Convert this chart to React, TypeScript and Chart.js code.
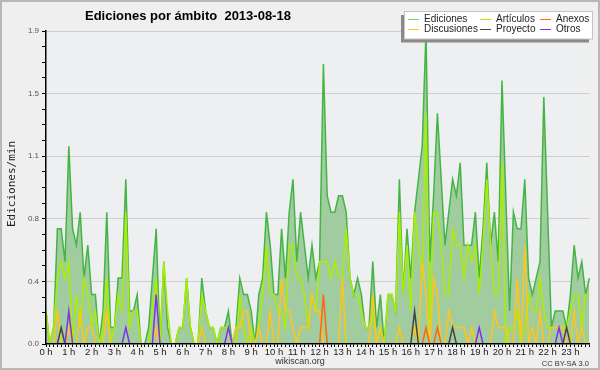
import React, { useEffect, useRef } from "react";
import { Chart, registerables } from "chart.js";

Chart.register(...registerables);

const TITLE = "Ediciones por ámbito  2013-08-18";
const Y_TITLE = "Ediciones/min";
const FOOTER = "wikiscan.org";
const LICENSE = "CC BY-SA 3.0";

const HOURS = [
  "0 h", "1 h", "2 h", "3 h", "4 h", "5 h", "6 h", "7 h", "8 h", "9 h", "10 h", "11 h",
  "12 h", "13 h", "14 h", "15 h", "16 h", "17 h", "18 h", "19 h", "20 h", "21 h", "22 h", "23 h",
];
const MINUTES = ["00", "10", "20", "30", "40", "50"];

// 10-minute slots
const SLOTS: string[] = [];
HOURS.forEach((h) => MINUTES.forEach((m) => SLOTS.push(h.replace(" h", "") + ":" + m)));

const Y_TICKS = [0, 0.38, 0.76, 1.14, 1.52, 1.9];

const EDICIONES = [
  0.2, 0, 0.1, 0.7, 0.7, 0.5, 1.2, 0.7, 0.6, 0.8, 0.4, 0.6,
  0.3, 0.3, 0, 0.2, 0.8, 0.1, 0.1, 0.4, 0.4, 1.0, 0.2, 0.2,
  0.3, 0, 0, 0.1, 0.4, 0.7, 0, 0.5, 0.1, 0, 0, 0.1,
  0.1, 0.4, 0.1, 0, 0, 0.4, 0.2, 0.1, 0.1, 0, 0.1, 0.1,
  0.2, 0, 0.1, 0.4, 0.3, 0.3, 0.2, 0, 0.3, 0.4, 0.8, 0.6,
  0.3, 0.3, 0.7, 0.4, 0.8, 1.0, 0.5, 0.8, 0.6, 0.4, 0.6, 0.4,
  0.5, 1.7, 0.9, 0.8, 0.8, 0.9, 0.9, 0.8, 0.4, 0.3, 0.4, 0.3,
  0.1, 0.1, 0.5, 0.1, 0.3, 0, 0.3, 0.3, 0.2, 1.0, 0.3, 0.7,
  0.4, 0.8, 1.0, 1.2, 1.9, 0.5, 0.9, 1.4, 1.0, 0.6, 0.8, 1.0,
  0.9, 1.1, 0.6, 0.6, 0.6, 0.8, 0.4, 0.7, 1.1, 0.6, 0.8, 0.5,
  1.6, 0.9, 0.2, 0.8, 0.7, 0.7, 1.0, 0.4, 0.3, 0.4, 0.5, 1.5,
  0.8, 0.1, 0.2, 0.2, 0.2, 0.1, 0.3, 0.6, 0.4, 0.5, 0.3, 0.4,
];

const ARTICULOS = [
  0.2, 0, 0.1, 0.4, 0.5, 0.4, 0.5, 0, 0.3, 0.1, 0.4, 0.3,
  0.1, 0.2, 0, 0.1, 0.4, 0, 0.1, 0.3, 0.2, 0.8, 0.1, 0.2,
  0.2, 0, 0, 0, 0.2, 0.4, 0, 0.5, 0.2, 0, 0, 0.1,
  0.1, 0.4, 0.1, 0, 0, 0.3, 0.2, 0.1, 0.1, 0, 0.1, 0.1,
  0.1, 0, 0, 0.3, 0.1, 0, 0.1, 0, 0.1, 0.3, 0.6, 0.3,
  0.3, 0.2, 0.2, 0.1, 0.6, 0.6, 0.4, 0.4, 0.3, 0.1, 0.3, 0.2,
  0.5, 0.5, 0.5, 0.4, 0.5, 0.4, 0.4, 0.7, 0.4, 0.3, 0.3, 0.2,
  0.1, 0.1, 0.2, 0, 0.1, 0, 0.3, 0.3, 0.2, 0.8, 0.3, 0.6,
  0.2, 0.8, 0.6, 0.4, 1.4, 0.1, 0.8, 0.8, 0.6, 0.3, 0.3, 0.7,
  0.6, 0.6, 0.4, 0.6, 0.5, 0.6, 0.3, 0.6, 1.0, 0.6, 0.3, 0.3,
  1.1, 0, 0.1, 0.1, 0.2, 0, 0.1, 0.3, 0.2, 0.2, 0.4, 0.2,
  0.1, 0.1, 0.1, 0.1, 0.1, 0.1, 0.2, 0.3, 0.3, 0.1, 0.3, 0.3,
];

const ANEXOS = [
  0, 0, 0, 0, 0, 0, 0, 0, 0, 0, 0, 0,
  0, 0, 0, 0, 0, 0, 0, 0, 0, 0, 0, 0,
  0, 0, 0, 0, 0, 0, 0, 0, 0, 0, 0, 0,
  0, 0, 0, 0, 0, 0, 0, 0, 0, 0, 0, 0,
  0, 0, 0, 0, 0, 0, 0, 0, 0, 0, 0, 0,
  0, 0, 0, 0, 0, 0, 0, 0, 0, 0, 0, 0,
  0, 0.3, 0, 0, 0, 0, 0, 0, 0, 0, 0, 0,
  0, 0, 0, 0, 0, 0, 0, 0, 0, 0, 0, 0,
  0, 0, 0, 0, 0.1, 0, 0, 0.1, 0, 0, 0, 0,
  0, 0, 0, 0, 0, 0, 0, 0, 0, 0, 0, 0,
  0, 0, 0, 0, 0, 0, 0, 0, 0, 0, 0, 0,
  0, 0, 0, 0, 0, 0, 0, 0, 0, 0, 0, 0,
];

const DISCUSIONES = [
  0, 0, 0, 0.2, 0, 0, 0.1, 0, 0, 0.2, 0, 0.1,
  0.1, 0, 0, 0, 0.2, 0, 0, 0, 0, 0, 0, 0,
  0, 0, 0, 0, 0, 0.1, 0, 0, 0, 0, 0, 0,
  0, 0, 0, 0, 0, 0.1, 0, 0, 0, 0, 0, 0,
  0, 0, 0.1, 0.1, 0.2, 0.2, 0, 0, 0.1, 0, 0, 0.2,
  0, 0, 0.4, 0.2, 0.2, 0.1, 0, 0.1, 0.1, 0.1, 0.3, 0.2,
  0.2, 0, 0, 0, 0, 0, 0.4, 0, 0, 0, 0, 0,
  0, 0, 0.3, 0, 0.1, 0, 0, 0, 0, 0.1, 0, 0,
  0, 0.1, 0, 0.5, 0.3, 0, 0.4, 0.3, 0, 0, 0.2, 0.1,
  0.1, 0.1, 0.1, 0, 0.1, 0, 0, 0, 0, 0, 0.2, 0.1,
  0.1, 0.1, 0, 0, 0.4, 0, 0.6, 0, 0.1, 0, 0.2, 0,
  0, 0.1, 0.1, 0.1, 0.1, 0, 0, 0.2, 0, 0.1, 0, 0,
];

const PROYECTO = [
  0, 0, 0, 0, 0.1, 0, 0, 0, 0, 0, 0, 0,
  0, 0, 0, 0, 0, 0, 0, 0, 0, 0, 0, 0,
  0, 0, 0, 0, 0, 0, 0, 0, 0, 0, 0, 0,
  0, 0, 0, 0, 0, 0, 0, 0, 0, 0, 0, 0,
  0, 0, 0, 0, 0, 0, 0, 0, 0, 0, 0, 0,
  0, 0, 0, 0, 0, 0, 0, 0, 0, 0, 0, 0,
  0, 0, 0, 0, 0, 0, 0, 0, 0, 0, 0, 0,
  0, 0, 0, 0, 0, 0, 0, 0, 0, 0, 0, 0,
  0, 0.2, 0, 0, 0, 0, 0, 0, 0, 0, 0, 0.1,
  0, 0, 0, 0, 0, 0, 0, 0, 0, 0, 0, 0,
  0, 0, 0, 0, 0, 0, 0, 0, 0, 0, 0, 0,
  0, 0, 0, 0, 0, 0.1, 0, 0, 0, 0, 0, 0,
];

const OTROS = [
  0, 0, 0, 0, 0, 0, 0.2, 0, 0, 0, 0, 0,
  0, 0, 0, 0, 0, 0, 0, 0, 0, 0.1, 0, 0,
  0, 0, 0, 0, 0, 0.3, 0, 0, 0, 0, 0, 0,
  0, 0, 0, 0, 0, 0, 0, 0, 0, 0, 0, 0,
  0.1, 0, 0, 0, 0, 0, 0, 0, 0, 0, 0, 0,
  0, 0, 0, 0, 0, 0, 0, 0, 0, 0, 0, 0,
  0, 0, 0, 0, 0, 0, 0, 0, 0, 0, 0, 0,
  0, 0, 0, 0, 0, 0, 0, 0, 0, 0, 0, 0,
  0, 0, 0, 0, 0, 0, 0, 0, 0, 0, 0, 0,
  0, 0, 0, 0, 0, 0, 0.1, 0, 0, 0, 0, 0,
  0, 0, 0, 0, 0, 0, 0, 0, 0, 0, 0, 0,
  0, 0, 0, 0.1, 0, 0, 0, 0, 0, 0, 0, 0,
];

const SANS = '"Liberation Sans", Arial, sans-serif';

const decor = {
  id: "decor",
  beforeDraw(chart: any) {
    const { ctx, chartArea: a, width, height } = chart;
    ctx.save();
    ctx.fillStyle = "#efefef";
    ctx.fillRect(0, 0, width, height);
    ctx.fillStyle = "#eeeff1";
    ctx.fillRect(a.left, a.top, a.right - a.left, a.bottom - a.top);
    ctx.strokeStyle = "#b8b8b8";
    ctx.lineWidth = 2;
    ctx.strokeRect(1, 1, width - 2, height - 2);
    ctx.restore();
  },
  afterDraw(chart: any) {
    const { ctx } = chart;
    ctx.save();
    // title
    ctx.fillStyle = "#000";
    ctx.font = "bold 13px " + SANS;
    ctx.textAlign = "left";
    ctx.textBaseline = "middle";
    ctx.fillText(TITLE, 85, 16);
    // y title
    ctx.save();
    ctx.translate(12, 184);
    ctx.rotate(-Math.PI / 2);
    ctx.textAlign = "center";
    ctx.font = '11px "DejaVu Sans Mono", monospace';
    ctx.fillStyle = "#222";
    ctx.fillText(Y_TITLE, 0, 0);
    ctx.restore();
    // footer
    ctx.font = "9px " + SANS;
    ctx.fillStyle = "#333";
    ctx.textAlign = "center";
    ctx.fillText(FOOTER, 300, 362);
    ctx.font = "7.5px " + SANS;
    ctx.textAlign = "right";
    ctx.fillText(LICENSE, 589, 363.5);
    // legend
    const bx = 404.5, by = 11.5, bw = 188, bh = 27.5;
    ctx.fillStyle = "#8a8a8a";
    ctx.fillRect(bx - 3.5, by + 3.5, bw, bh);
    ctx.fillStyle = "#ffffff";
    ctx.fillRect(bx, by, bw, bh);
    ctx.strokeStyle = "#c4c4c4";
    ctx.lineWidth = 1;
    ctx.strokeRect(bx, by, bw, bh);
    const cols = [408, 480, 540];
    const rows = [19.5, 29.5];
    ctx.font = "10px " + SANS;
    ctx.textAlign = "left";
    ctx.textBaseline = "middle";
    chart.data.datasets.forEach((ds: any, i: number) => {
      const x = cols[i % 3];
      const y = rows[Math.floor(i / 3)];
      ctx.strokeStyle = ds.legendColor || ds.borderColor;
      ctx.lineWidth = 1;
      ctx.beginPath();
      ctx.moveTo(x, y);
      ctx.lineTo(x + 11, y);
      ctx.stroke();
      ctx.fillStyle = "#222";
      ctx.fillText(ds.label, x + 16, y);
    });
    ctx.restore();
  },
};

export default function App() {
  const ref = useRef<HTMLCanvasElement | null>(null);
  useEffect(() => {
    if (!ref.current) return;
    const line = (label: string, data: number[], color: string, order: number, width = 1.5) => ({
      label,
      data,
      borderColor: color,
      borderWidth: width,
      pointRadius: 0,
      tension: 0,
      fill: false,
      order,
    });
    const chart = new Chart(ref.current, {
      type: "line",
      data: {
        labels: SLOTS,
        datasets: [
          {
            ...line("Ediciones", EDICIONES, "#44b544", 6, 1.5),
            fill: "origin",
            backgroundColor: "#a0cca0",
            legendColor: "#77cc77",
          } as any,
          line("Artículos", ARTICULOS, "#aaee00", 5, 1.5),
          line("Anexos", ANEXOS, "#ff6611", 2),
          line("Discusiones", DISCUSIONES, "#ffc61a", 4),
          line("Proyecto", PROYECTO, "#444444", 3),
          line("Otros", OTROS, "#8030ee", 1),
        ],
      },
      options: {
        animation: false,
        responsive: false,
        devicePixelRatio: 1,
        layout: { padding: { left: 0, top: 31, right: 10.6, bottom: 0 } },
        plugins: { legend: { display: false }, title: { display: false }, tooltip: { enabled: false } },
        scales: {
          x: {
            type: "category",
            afterFit: (s: any) => {
              s.height = 26;
            },
            ticks: {
              autoSkip: false,
              maxRotation: 0,
              minRotation: 0,
              padding: 0,
              color: "#222",
              font: { family: SANS, size: 9.5 },
              callback: (_v: any, i: number) => (i % 6 === 0 ? HOURS[i / 6] : ""),
            },
            grid: { drawOnChartArea: false, tickColor: "#000", tickLength: 3 },
            border: { color: "#000", width: 1.5, z: 1 },
          },
          y: {
            min: 0,
            max: 1.9,
            afterFit: (s: any) => {
              s.width = 46;
            },
            afterBuildTicks: (s: any) => {
              const t: any[] = [];
              for (let k = 0; k < Y_TICKS.length; k++) {
                t.push({ value: Y_TICKS[k] });
                if (k < Y_TICKS.length - 1) {
                  const step = (Y_TICKS[k + 1] - Y_TICKS[k]) / 4;
                  for (let j = 1; j < 4; j++) t.push({ value: Y_TICKS[k] + step * j });
                }
              }
              s.ticks = t;
            },
            ticks: {
              autoSkip: false,
              padding: 3,
              color: "#555",
              font: { family: SANS, size: 8 },
              callback: (v: any, i: number) => (i % 4 === 0 ? Number(v).toFixed(1) : ""),
            },
            grid: {
              color: (c: any) => (c.index % 4 === 0 && c.index > 0 ? "#cdcdcd" : "rgba(0,0,0,0)"),
              tickColor: "#000",
              tickLength: 4,
            },
            border: { color: "#000", width: 1.5, z: 1 },
          },
        },
      } as any,
      plugins: [decor],
    });
    return () => chart.destroy();
  }, []);
  return (
    <div style={{ position: "absolute", left: 0, top: 0, width: 600, height: 370 }}>
      <canvas ref={ref} width={600} height={370} style={{ display: "block" }} />
    </div>
  );
}
